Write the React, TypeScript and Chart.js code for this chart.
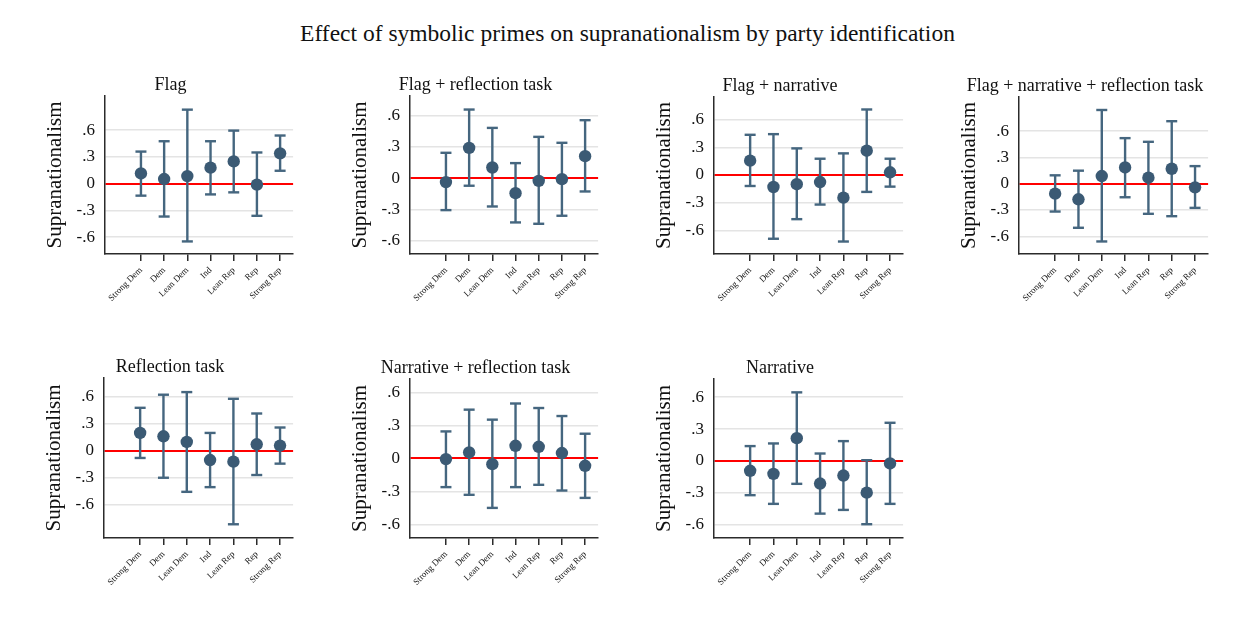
import React, { useEffect, useRef } from "react";
import { Chart, registerables } from "chart.js";

Chart.register(...registerables);

const FONT = '"Liberation Serif", "Times New Roman", Times, serif';
const TEXT = "#111111";
const MARK = "#3b5a74";
const WHISK = "#45667f";
const AXIS = "#2b2b2b";

const mainTitle = "Effect of symbolic primes on supranationalism by party identification";
const yAxisTitle = "Supranationalism";

const categories = ["Strong Dem", "Dem", "Lean Dem", "Ind", "Lean Rep", "Rep", "Strong Rep"];
const yTickValues = [-0.6, -0.3, 0, 0.3, 0.6];
const yTickLabels = ["-.6", "-.3", "0", ".3", ".6"];

// Flag
const flagEst = [0.115, 0.052, 0.085, 0.18, 0.25, -0.01, 0.34];
const flagLo = [-0.134, -0.368, -0.647, -0.12, -0.097, -0.36, 0.145];
const flagHi = [0.36, 0.476, 0.83, 0.476, 0.595, 0.35, 0.54];

// Flag + reflection task
const flagReflEst = [-0.038, 0.29, 0.102, -0.144, -0.026, -0.01, 0.211];
const flagReflLo = [-0.307, -0.073, -0.272, -0.425, -0.438, -0.361, -0.128];
const flagReflHi = [0.243, 0.658, 0.482, 0.144, 0.396, 0.339, 0.556];

// Flag + narrative
const flagNarrEst = [0.155, -0.13, -0.1, -0.076, -0.245, 0.263, 0.029];
const flagNarrLo = [-0.119, -0.69, -0.478, -0.32, -0.72, -0.183, -0.126];
const flagNarrHi = [0.435, 0.442, 0.288, 0.176, 0.234, 0.709, 0.176];

// Flag + narrative + reflection task
const flagNarrReflEst = [-0.114, -0.178, 0.087, 0.185, 0.068, 0.17, -0.042];
const flagNarrReflLo = [-0.318, -0.503, -0.659, -0.155, -0.344, -0.371, -0.276];
const flagNarrReflHi = [0.095, 0.148, 0.84, 0.519, 0.477, 0.712, 0.2];

// Reflection task
const reflEst = [0.196, 0.159, 0.096, -0.104, -0.122, 0.07, 0.056];
const reflLo = [-0.081, -0.3, -0.456, -0.404, -0.815, -0.27, -0.144];
const reflHi = [0.474, 0.619, 0.648, 0.196, 0.574, 0.411, 0.256];

// Narrative + reflection task
const narrReflEst = [-0.006, 0.055, -0.052, 0.115, 0.106, 0.049, -0.067];
const narrReflLo = [-0.261, -0.331, -0.45, -0.261, -0.24, -0.292, -0.359];
const narrReflHi = [0.246, 0.444, 0.353, 0.5, 0.459, 0.386, 0.225];

// Narrative
const narrEst = [-0.094, -0.123, 0.214, -0.214, -0.139, -0.3, -0.025];
const narrLo = [-0.324, -0.406, -0.217, -0.498, -0.463, -0.598, -0.406];
const narrHi = [0.139, 0.164, 0.646, 0.069, 0.186, 0.006, 0.359];

type PanelCfg = {
  title: string;
  est: number[];
  lo: number[];
  hi: number[];
  yMin: number;
  yMax: number;
  L: number;
  T: number;
  R: number;
  B: number;
};

const panels: PanelCfg[] = [
  { title: "Flag", est: flagEst, lo: flagLo, hi: flagHi, yMin: -0.788, yMax: 0.983, L: 105, T: 96, R: 301, B: 254 },
  { title: "Flag + reflection task", est: flagReflEst, lo: flagReflLo, hi: flagReflHi, yMin: -0.728, yMax: 0.788, L: 410, T: 96, R: 606, B: 254 },
  { title: "Flag + narrative", est: flagNarrEst, lo: flagNarrLo, hi: flagNarrHi, yMin: -0.855, yMax: 0.844, L: 714, T: 97, R: 911, B: 254 },
  { title: "Flag + narrative + reflection task", est: flagNarrReflEst, lo: flagNarrReflLo, hi: flagNarrReflHi, yMin: -0.802, yMax: 0.988, L: 1019, T: 97, R: 1216, B: 254 },
  { title: "Reflection task", est: reflEst, lo: reflLo, hi: reflHi, yMin: -0.967, yMax: 0.804, L: 104, T: 378, R: 301, B: 538 },
  { title: "Narrative + reflection task", est: narrReflEst, lo: narrReflLo, hi: narrReflHi, yMin: -0.724, yMax: 0.723, L: 410, T: 379, R: 606, B: 538 },
  { title: "Narrative", est: narrEst, lo: narrLo, hi: narrHi, yMin: -0.728, yMax: 0.772, L: 714, T: 379, R: 911, B: 538 },
];

const Y_AREA = 65;
const TITLE_AREA = 30;
const X_AREA = 60;

function Panel({ cfg }: { cfg: PanelCfg }) {
  const ref = useRef<HTMLCanvasElement | null>(null);
  const width = cfg.R - cfg.L + Y_AREA;
  const height = cfg.B - cfg.T + TITLE_AREA + X_AREA;

  useEffect(() => {
    if (!ref.current) return;
    const datasets: any[] = [
      {
        type: "scatter",
        data: cfg.est.map((v, i) => ({ x: i, y: v })),
        pointRadius: 6.2,
        pointBackgroundColor: MARK,
        pointBorderWidth: 0,
        showLine: false,
        order: 0,
      },
      ...cfg.lo.map((lo, i) => ({
        type: "line",
        data: [
          { x: i, y: lo },
          { x: i, y: cfg.hi[i] },
        ],
        borderColor: WHISK,
        borderWidth: 2.4,
        pointStyle: "line",
        pointRadius: 5.5,
        pointBorderColor: WHISK,
        pointBorderWidth: 2.4,
        fill: false,
        order: 1,
      })),
    ];

    const chart = new Chart(ref.current, {
      type: "scatter",
      data: { datasets },
      options: {
        animation: false,
        responsive: false,
        devicePixelRatio: 1,
        events: [],
        layout: { padding: 0 },
        plugins: {
          legend: { display: false },
          tooltip: { enabled: false },
          title: {
            display: true,
            text: cfg.title,
            color: TEXT,
            font: { family: FONT, size: 18, weight: "normal", lineHeight: 1.2 },
            padding: { top: 8.2, bottom: 0.2 },
          },
        },
        scales: {
          x: {
            type: "linear",
            min: -1.55,
            max: 6.56,
            afterBuildTicks: (scale: any) => {
              scale.ticks = categories.map((_, i) => ({ value: i }));
            },
            afterFit: (scale: any) => {
              scale.height = X_AREA;
            },
            ticks: {
              autoSkip: false,
              minRotation: 45,
              maxRotation: 45,
              padding: 4,
              color: TEXT,
              font: { family: FONT, size: 9 },
              callback: (v: any) => categories[Math.round(Number(v))] ?? "",
            },
            grid: {
              drawOnChartArea: false,
              drawTicks: true,
              tickLength: 7,
              color: AXIS,
              lineWidth: 1.5,
            },
            border: { display: true, color: AXIS, width: 1.5 },
          },
          y: {
            type: "linear",
            min: cfg.yMin,
            max: cfg.yMax,
            afterBuildTicks: (scale: any) => {
              scale.ticks = yTickValues.map((v) => ({ value: v }));
            },
            afterFit: (scale: any) => {
              scale.width = Y_AREA;
            },
            ticks: {
              padding: 10,
              color: TEXT,
              font: { family: FONT, size: 17 },
              callback: (v: any) => {
                const idx = yTickValues.findIndex((t) => Math.abs(t - Number(v)) < 1e-6);
                return idx >= 0 ? yTickLabels[idx] : "";
              },
            },
            grid: {
              drawTicks: false,
              color: (ctx: any) => (Math.abs(ctx.tick?.value ?? 1) < 1e-9 ? "#ff0000" : "#e4e4e4"),
              lineWidth: (ctx: any) => (Math.abs(ctx.tick?.value ?? 1) < 1e-9 ? 2 : 1.5),
            },
            border: { display: true, color: AXIS, width: 1.5 },
            title: {
              display: true,
              text: yAxisTitle,
              color: TEXT,
              font: { family: FONT, size: 21, lineHeight: 1 },
              padding: { top: 4.5, bottom: 0 },
            },
          },
        },
      } as any,
    });
    return () => chart.destroy();
  }, [cfg]);

  return (
    <canvas
      ref={ref}
      width={width}
      height={height}
      style={{
        position: "absolute",
        left: cfg.L - Y_AREA,
        top: cfg.T - TITLE_AREA,
        width,
        height,
      }}
    />
  );
}

export default function App() {
  return (
    <div
      style={{
        position: "absolute",
        left: 0,
        top: 0,
        width: 1247,
        height: 624,
        background: "#ffffff",
        overflow: "hidden",
      }}
    >
      <div
        style={{
          position: "absolute",
          left: 4,
          top: 22,
          width: 1247,
          textAlign: "center",
          fontFamily: FONT,
          fontSize: 23.5,
          lineHeight: 1,
          color: TEXT,
          whiteSpace: "nowrap",
        }}
      >
        {mainTitle}
      </div>
      {panels.map((p) => (
        <Panel key={p.title} cfg={p} />
      ))}
    </div>
  );
}
